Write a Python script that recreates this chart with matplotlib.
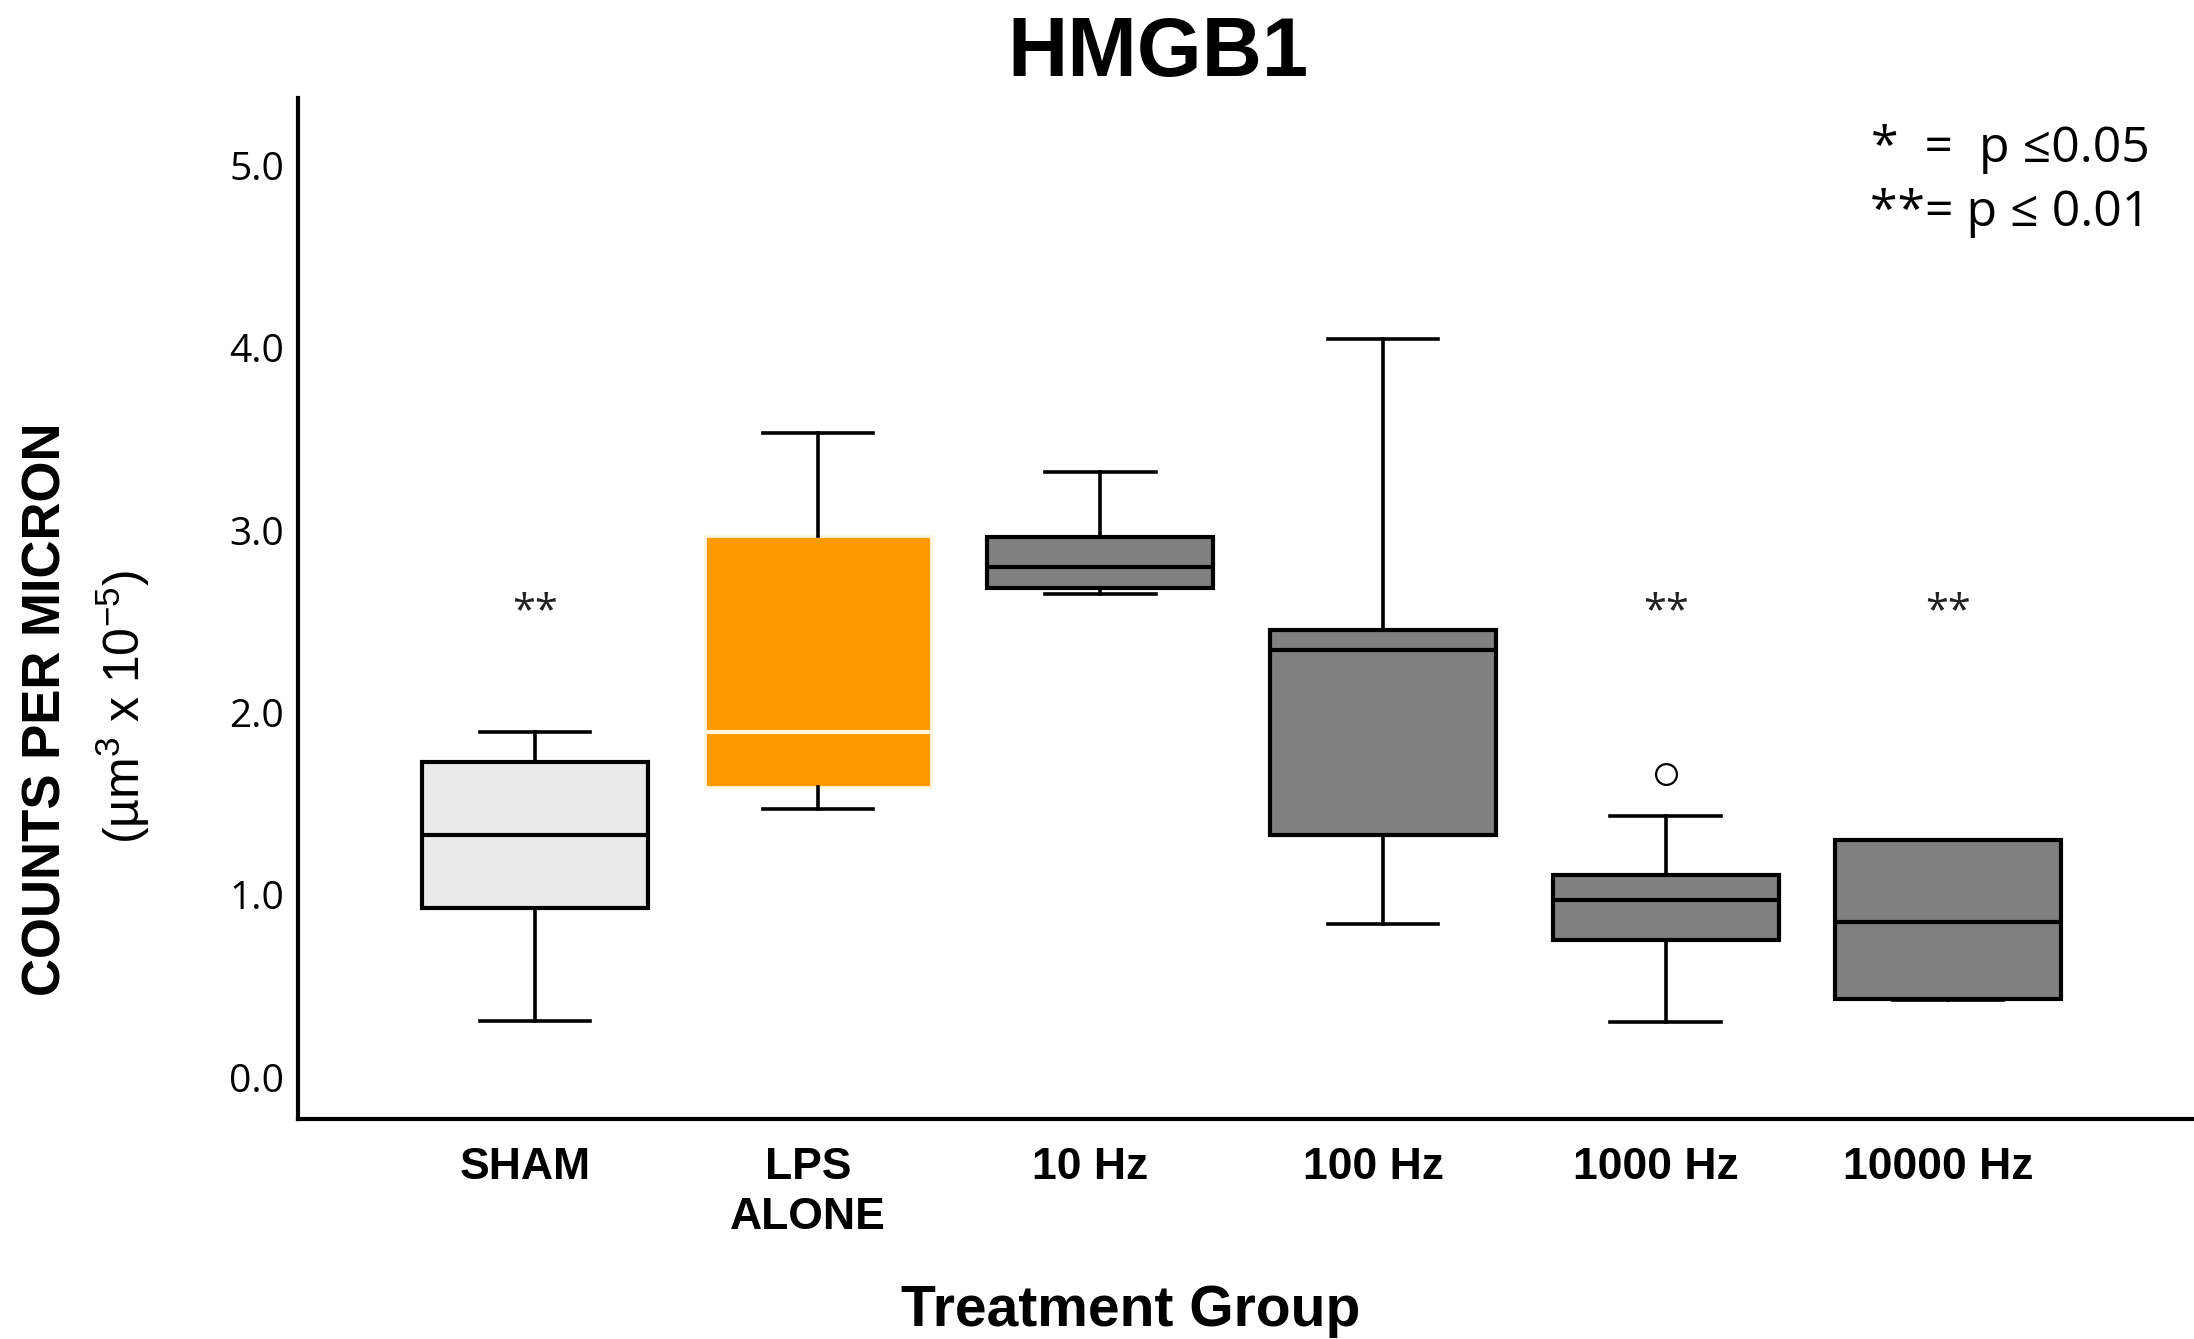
import numpy as np
import matplotlib
matplotlib.use("Agg")
import matplotlib.pyplot as plt

# ---- data -------------------------------------------------------------
groups = ["SHAM", "LPS\nALONE", "10 Hz", "100 Hz", "1000 Hz", "10000 Hz"]
whisker_low = [0.31, 1.47, 2.65, 0.84, 0.30, 0.42]
q1 = [0.93, 1.59, 2.68, 1.33, 0.75, 0.43]
median = [1.33, 1.89, 2.80, 2.34, 0.97, 0.85]
q3 = [1.73, 2.97, 2.96, 2.45, 1.11, 1.30]
whisker_high = [1.89, 3.53, 3.32, 4.05, 1.43, 1.30]
outliers = [[], [], [], [], [1.66], []]
significance = ["**", "", "", "", "**", "**"]
sig_level = 2.55

box_colors = ["#EBEBEB", "#FF9A00", "#808080", "#808080", "#808080", "#808080"]
edge_colors = ["black", "#FFF4E0", "black", "black", "black", "black"]
median_colors = ["black", "#FFF4E0", "black", "black", "black", "black"]

plt.rcParams["mathtext.fontset"] = "custom"
plt.rcParams["mathtext.rm"] = "Liberation Sans"
plt.rcParams["mathtext.it"] = "Liberation Sans:italic"
plt.rcParams["mathtext.bf"] = "Liberation Sans:bold"

fig = plt.figure(figsize=(21.94, 13.39), dpi=100)
ax = fig.add_axes([0.1358, 0.1643, 0.8642, 0.7625])

stats = []
for i in range(len(groups)):
    stats.append(dict(whislo=whisker_low[i], q1=q1[i], med=median[i],
                      q3=q3[i], whishi=whisker_high[i], fliers=outliers[i]))

pos = np.arange(len(groups))
bp = ax.bxp(stats, positions=pos, widths=0.8, capwidths=0.39,
            patch_artist=True, showfliers=True,
            boxprops=dict(linewidth=3.0),
            whiskerprops=dict(linewidth=2.6, color="black"),
            capprops=dict(linewidth=2.6, color="black"),
            medianprops=dict(linewidth=3.0),
            flierprops=dict(marker="o", markersize=15, markerfacecolor="white",
                            markeredgecolor="black", markeredgewidth=1.6))

for i, box in enumerate(bp["boxes"]):
    box.set_facecolor(box_colors[i])
    box.set_edgecolor(edge_colors[i])
    if edge_colors[i] != "black":
        box.set_linewidth(2.0)
    bp["medians"][i].set_color(median_colors[i])
    bp["medians"][i].set_zorder(3)

for i, s in enumerate(significance):
    if s:
        ax.text(pos[i], sig_level, s, ha="center", va="center",
                fontsize=30, family=["Open Sans", "DejaVu Sans"], color="#222222")

ax.set_xlim(-0.84, 5.87)
ax.set_ylim(-0.23, 5.37)
ax.set_yticks([0, 1, 2, 3, 4, 5])
ax.set_yticklabels(["0.0", "1.0", "2.0", "3.0", "4.0", "5.0"],
                   fontsize=28, family=["Open Sans", "DejaVu Sans"])
ax.set_xticks(pos - 0.035)
ax.set_xticklabels(groups, fontsize=32, fontweight="bold",
                   family=["Liberation Sans Narrow", "Liberation Sans"],
                   linespacing=1.3, va="top")
ax.tick_params(axis="both", length=0)
ax.tick_params(axis="y", pad=10)
ax.tick_params(axis="x", pad=20)

for side in ["top", "right"]:
    ax.spines[side].set_visible(False)
for side in ["left", "bottom"]:
    ax.spines[side].set_linewidth(3.0)

fig.text(0.528, 0.960, "HMGB1", ha="center", va="center",
         fontsize=60, fontweight="bold", family="Liberation Sans")
fig.text(0.5155, 0.021, "Treatment Group", ha="center", va="center",
         fontsize=41, fontweight="bold", family="Liberation Sans")
fig.text(0.021, 0.470, "COUNTS PER MICRON", ha="center", va="center",
         rotation=90, fontsize=38, fontweight="bold", family="Liberation Sans")
fig.text(0.056, 0.472, r"(µm$^{3}$ x 10$^{-5}$)", ha="center", va="center",
         rotation=90, fontsize=36, family="Liberation Sans")

fig.text(0.980, 0.889, "*  =  p ≤0.05", ha="right", va="center",
         fontsize=36, family=["Open Sans", "DejaVu Sans"])
fig.text(0.980, 0.841, "**= p ≤ 0.01", ha="right", va="center",
         fontsize=36, family=["Open Sans", "DejaVu Sans"])

fig.savefig("out.png", dpi=100)
